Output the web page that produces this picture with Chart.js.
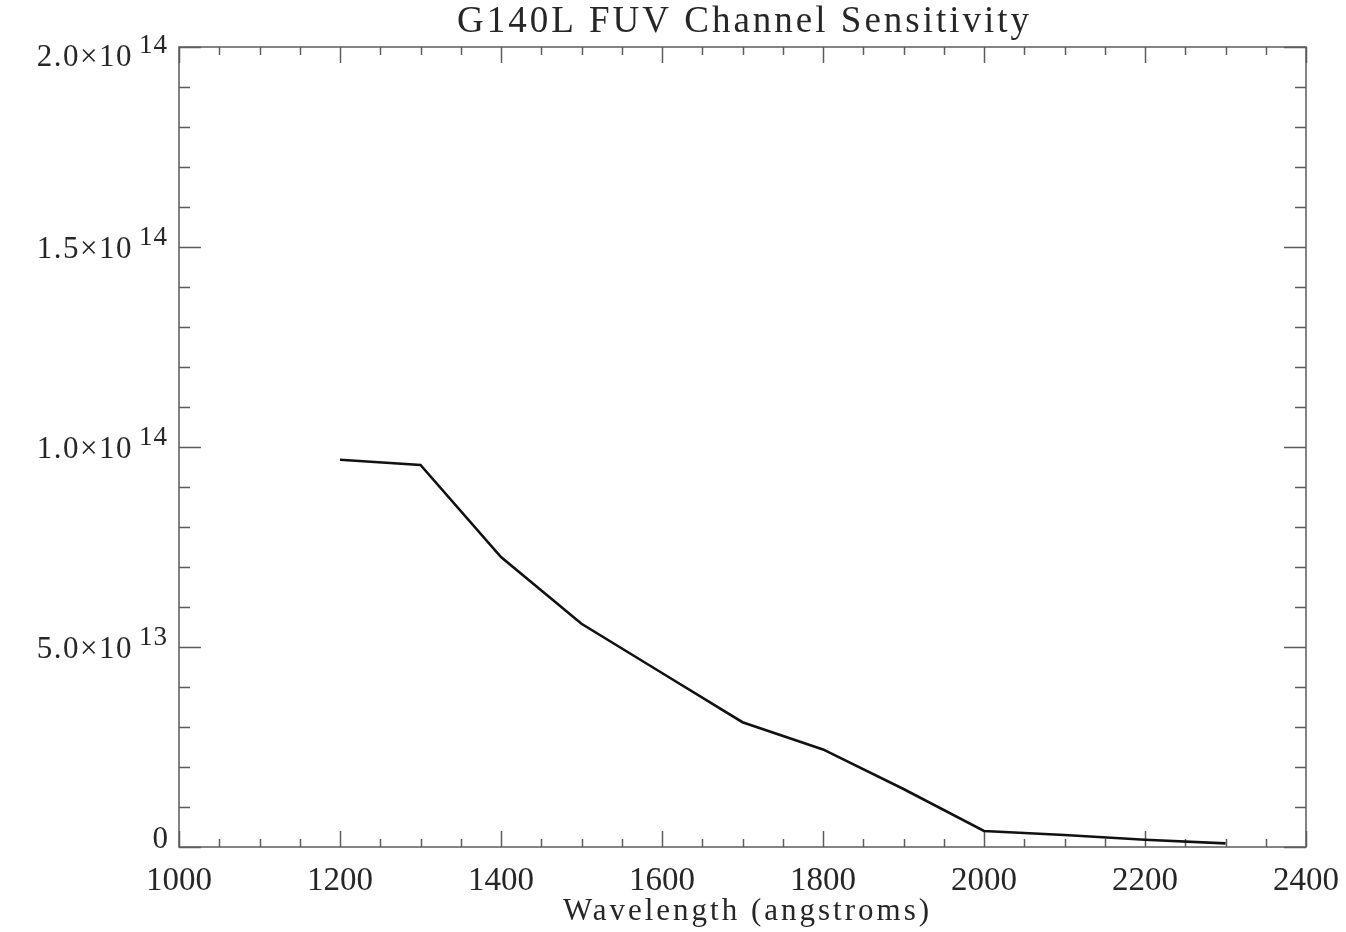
<!DOCTYPE html>
<html>
<head>
<meta charset="utf-8">
<script src="https://cdn.jsdelivr.net/npm/chart.js@4/dist/chart.umd.min.js"></script>
<style>
  html, body { margin: 0; padding: 0; background: #ffffff; }
  #wrap { width: 1346px; height: 932px; }
</style>
</head>
<body>
<div id="wrap"><canvas id="chart" width="1346" height="932"></canvas></div>
<script>
// G140L FUV channel sensitivity curve
const wavelengths = [1200, 1300, 1400, 1500, 1600, 1700, 1800, 1900, 2000, 2100, 2200, 2300];
const sensitivity = [9.68e13, 9.55e13, 7.25e13, 5.58e13, 4.35e13, 3.12e13, 2.44e13, 1.45e13, 4.0e12, 3.0e12, 1.8e12, 0.9e12];

// axis ranges and tick values
const xRange = [1000, 2400];
const yRange = [0, 2e14];
const xMajorTicks = [1000, 1200, 1400, 1600, 1800, 2000, 2200, 2400];
const xMinorStep = 50;
const yMajorTicks = [0, 5e13, 1e14, 1.5e14, 2e14];
const yMinorStep = 1e13;

const titleText = 'G140L FUV Channel Sensitivity';
const xTitleText = 'Wavelength (angstroms)';

const SERIF = '"Liberation Serif", "DejaVu Serif", serif';
const AXIS_COLOR = '#5c5c5c';
const TEXT_COLOR = '#262626';

function range(min, max, step) {
  const out = [];
  for (let v = min; v <= max + step * 1e-6; v += step) out.push(v);
  return out;
}

// IDL-style frame: box, inward ticks on all four sides, labels with exponents
const framePlugin = {
  id: 'frame',
  beforeDatasetsDraw(chart) {
    const { ctx, chartArea: a, scales } = chart;
    const xs = scales.x, ys = scales.y;
    ctx.save();
    ctx.strokeStyle = AXIS_COLOR;
    ctx.lineWidth = 1.5;
    ctx.strokeRect(a.left, a.top, a.right - a.left, a.bottom - a.top);

    ctx.beginPath();
    // x ticks (bottom up, top down)
    range(xRange[0], xRange[1], xMinorStep).forEach(v => {
      const px = Math.round(xs.getPixelForValue(v)) + 0.5;
      const major = xMajorTicks.some(t => Math.abs(t - v) < 1e-6);
      const len = major ? 16 : 8;
      ctx.moveTo(px, a.bottom); ctx.lineTo(px, a.bottom - len);
      ctx.moveTo(px, a.top); ctx.lineTo(px, a.top + len);
    });
    // y ticks (left rightwards, right leftwards)
    range(yRange[0], yRange[1], yMinorStep).forEach(v => {
      const py = Math.round(ys.getPixelForValue(v)) + 0.5;
      const major = yMajorTicks.some(t => Math.abs(t - v) < 1);
      const len = major ? 22 : 11;
      ctx.moveTo(a.left, py); ctx.lineTo(a.left + len, py);
      ctx.moveTo(a.right, py); ctx.lineTo(a.right - len, py);
    });
    ctx.stroke();

    ctx.fillStyle = TEXT_COLOR;

    // x tick labels
    ctx.font = '33px ' + SERIF;
    ctx.letterSpacing = '0px';
    ctx.textAlign = 'center';
    ctx.textBaseline = 'alphabetic';
    xMajorTicks.forEach(v => {
      ctx.fillText(String(v), xs.getPixelForValue(v), a.bottom + 43);
    });

    // y tick labels: mantissa x 10 with a raised exponent
    ctx.textAlign = 'right';
    const labelRight = a.left - 11;
    yMajorTicks.forEach(v => {
      const py = ys.getPixelForValue(v);
      if (v === 0) {
        ctx.font = '31px ' + SERIF;
        ctx.letterSpacing = '0px';
        ctx.fillText('0', labelRight, a.bottom + 1);
        return;
      }
      const exp = Math.floor(Math.log10(v) + 1e-9);
      const mant = (v / Math.pow(10, exp)).toFixed(1);
      const base = Math.max(py + 11, a.top + 19);
      ctx.font = '27px ' + SERIF;
      ctx.letterSpacing = '1px';
      const expStr = String(exp);
      const expW = ctx.measureText(expStr).width;
      ctx.fillText(expStr, labelRight, base - 13);
      ctx.font = '31px ' + SERIF;
      ctx.letterSpacing = '1.5px';
      ctx.fillText(mant + '\u00d710', labelRight - expW - 6, base);
    });

    // titles
    ctx.textAlign = 'center';
    ctx.font = '37px ' + SERIF;
    ctx.letterSpacing = '3px';
    ctx.fillText(titleText, (a.left + a.right) / 2 + 2, 32);
    ctx.font = '31px ' + SERIF;
    ctx.letterSpacing = '3px';
    ctx.fillText(xTitleText, (a.left + a.right) / 2 + 5, a.bottom + 73);

    ctx.restore();
  }
};

new Chart(document.getElementById('chart'), {
  type: 'line',
  data: {
    datasets: [{
      data: wavelengths.map((w, i) => ({ x: w, y: sensitivity[i] })),
      borderColor: '#111111',
      borderWidth: 2.6,
      pointRadius: 0,
      tension: 0,
      fill: false
    }]
  },
  options: {
    responsive: false,
    animation: false,
    devicePixelRatio: 1,
    layout: { padding: { left: 179, right: 40, top: 47, bottom: 85 } },
    plugins: { legend: { display: false }, tooltip: { enabled: false }, title: { display: false } },
    scales: {
      x: { type: 'linear', display: false, min: xRange[0], max: xRange[1] },
      y: { type: 'linear', display: false, min: yRange[0], max: yRange[1] }
    }
  },
  plugins: [framePlugin]
});
</script>
</body>
</html>
